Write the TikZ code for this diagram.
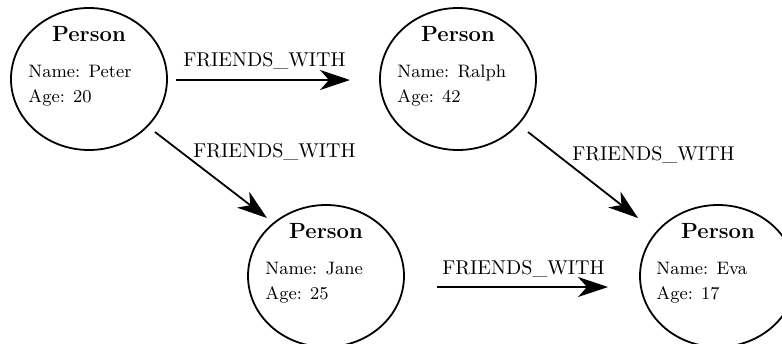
\documentclass[tikz,border=0pt]{standalone}
\usetikzlibrary{shapes.geometric,arrows.meta}
\begin{document}
\begin{tikzpicture}[x=0.5pt,y=-0.5pt,
  person/.style={draw,ellipse,line width=0.9pt,minimum width=78pt,minimum height=71pt,inner sep=0pt},
  title/.style={font=\fontsize{11}{13}\selectfont\bfseries,anchor=base,inner sep=0pt},
  attr/.style={font=\small,anchor=base west,inner sep=0pt},
  rel/.style={line width=0.9pt,-{Stealth[length=15pt,width=10pt,inset=4.5pt]}},
  rellabel/.style={anchor=base west,inner sep=0pt}]
\useasboundingbox (0,0) rectangle (782,343);
% persons
\node[person] (p1) at (89,79) {};
\node[person] (p2) at (458,79) {};
\node[person] (p3) at (326,276) {};
\node[person] (p4) at (718,276) {};
% texts
\node[title] (t1) at ([shift={(0,-38)}]p1.center) {Person};
\node[attr] (n1) at ([shift={(-61,-2)}]p1.center) {Name: Peter};
\node[attr] (a1) at ([shift={(-61,23)}]p1.center) {Age: 20};
\node[title] (t2) at ([shift={(0,-38)}]p2.center) {Person};
\node[attr] (n2) at ([shift={(-61,-2)}]p2.center) {Name: Ralph};
\node[attr] (a2) at ([shift={(-61,23)}]p2.center) {Age: 42};
\node[title] (t3) at ([shift={(0,-38)}]p3.center) {Person};
\node[attr] (n3) at ([shift={(-61,-2)}]p3.center) {Name: Jane};
\node[attr] (a3) at ([shift={(-61,23)}]p3.center) {Age: 25};
\node[title] (t4) at ([shift={(0,-38)}]p4.center) {Person};
\node[attr] (n4) at ([shift={(-62,-2)}]p4.center) {Name: Eva};
\node[attr] (a4) at ([shift={(-62,23)}]p4.center) {Age: 17};
% relations
\draw[rel] ([shift={(87,1)}]p1.center) -- ([shift={(-108,1)}]p2.center);
\draw[rel] ([shift={(66,53)}]p1.center) -- ([shift={(-59,-58)}]p3.center);
\draw[rel] ([shift={(70,53)}]p2.center) -- ([shift={(-80,-58)}]p4.center);
\draw[rel] ([shift={(111,11)}]p3.center) -- ([shift={(-110,11)}]p4.center);
% labels
\node[rellabel] (l1) at (183,66) {FRIENDS\_WITH};
\node[rellabel] (l2) at (193,157) {FRIENDS\_WITH};
\node[rellabel] (l3) at (572,160) {FRIENDS\_WITH};
\node[rellabel] (l4) at (442,274) {FRIENDS\_WITH};
\end{tikzpicture}
\end{document}
